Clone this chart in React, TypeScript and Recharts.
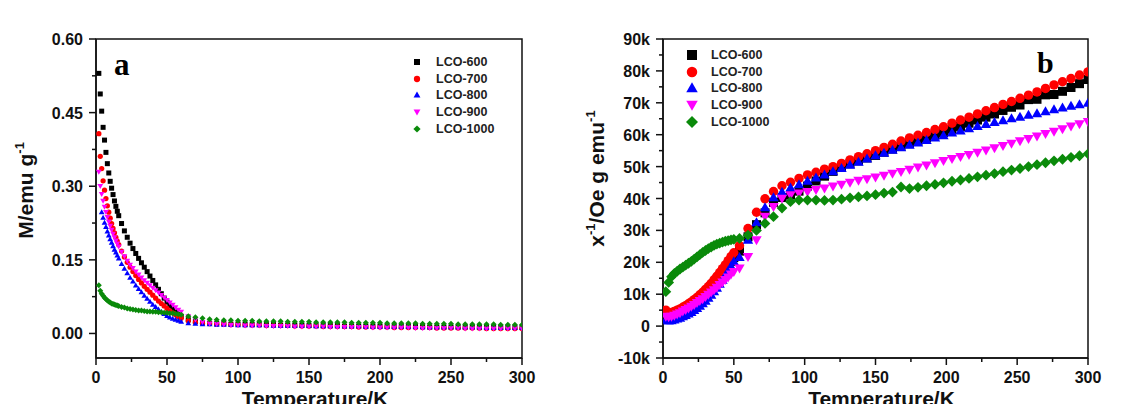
import React from "react";
import {
  ScatterChart,
  Scatter,
  XAxis,
  YAxis,
  ReferenceArea,
  Legend,
} from "recharts";

// ---- panel a: M vs T ----
const tempA = [
  2, 3, 4, 5, 6, 7, 8, 9, 10, 11, 12, 13, 14, 15, 16, 18, 20, 22, 24, 26, 28, 30, 32, 34, 36, 38, 40,
  42, 44, 46, 48, 50, 52, 54, 56, 58, 60, 65, 70, 75, 80, 85, 90, 95, 100, 105, 110, 115, 120, 125,
  130, 135, 140, 145, 150, 155, 160, 165, 170, 175, 180, 185, 190, 195, 200, 205, 210, 215, 220, 225,
  230, 235, 240, 245, 250, 255, 260, 265, 270, 275, 280, 285, 290, 295, 300,
];

const mA600 = [
  0.53, 0.488, 0.453, 0.42, 0.394, 0.369, 0.346, 0.327, 0.31, 0.296, 0.283, 0.27, 0.259, 0.249, 0.24,
  0.224, 0.209, 0.196, 0.184, 0.173, 0.163, 0.153, 0.144, 0.135, 0.126, 0.117, 0.108, 0.099, 0.09,
  0.081, 0.072, 0.064, 0.057, 0.05, 0.044, 0.039, 0.035,
  0.028, 0.024, 0.022, 0.021, 0.02, 0.02, 0.019, 0.019, 0.019, 0.018, 0.018, 0.018, 0.018, 0.017,
  0.017, 0.017, 0.017, 0.016, 0.016, 0.016, 0.016, 0.016, 0.015, 0.015, 0.015, 0.015, 0.015, 0.015,
  0.014, 0.014, 0.014, 0.014, 0.014, 0.014, 0.013, 0.013, 0.013, 0.013, 0.013, 0.013, 0.013, 0.012,
  0.012, 0.012, 0.012, 0.012, 0.012, 0.012,
];
const mA700 = [
  0.407, 0.361, 0.336, 0.311, 0.292, 0.275, 0.26, 0.247, 0.235, 0.224, 0.214, 0.205, 0.196, 0.188,
  0.181, 0.168, 0.156, 0.145, 0.135, 0.126, 0.118, 0.11, 0.103, 0.096, 0.09, 0.084, 0.078, 0.072,
  0.066, 0.061, 0.056, 0.051, 0.046, 0.042, 0.038, 0.034, 0.031,
  0.026, 0.023, 0.021, 0.02, 0.019, 0.019, 0.018, 0.018, 0.017, 0.017, 0.017, 0.016, 0.016, 0.016,
  0.016, 0.015, 0.015, 0.015, 0.015, 0.014, 0.014, 0.014, 0.014, 0.014, 0.013, 0.013, 0.013, 0.013,
  0.013, 0.012, 0.012, 0.012, 0.012, 0.012, 0.012, 0.011, 0.011, 0.011, 0.011, 0.011, 0.011, 0.011,
  0.01, 0.01, 0.01, 0.01, 0.01, 0.01,
];
const mA800 = [
  null, null, 0.247, 0.236, 0.226, 0.217, 0.208, 0.2, 0.192, 0.185, 0.178, 0.171, 0.165, 0.159, 0.153,
  0.142, 0.132, 0.123, 0.114, 0.106, 0.098, 0.091, 0.084, 0.077, 0.071, 0.065, 0.059, 0.054, 0.049,
  0.044, 0.04, 0.036, 0.033, 0.03, 0.028, 0.026, 0.024,
  0.021, 0.02, 0.019, 0.019, 0.018, 0.018, 0.018, 0.017, 0.017, 0.017, 0.017, 0.017, 0.016, 0.016,
  0.016, 0.016, 0.016, 0.016, 0.015, 0.015, 0.015, 0.015, 0.015, 0.015, 0.015, 0.014, 0.014, 0.014,
  0.014, 0.014, 0.014, 0.014, 0.014, 0.013, 0.013, 0.013, 0.013, 0.013, 0.013, 0.013, 0.013, 0.013,
  0.012, 0.012, 0.012, 0.012, 0.012, 0.012,
];
const mA900 = [
  0.329, 0.3, 0.284, 0.27, 0.258, 0.247, 0.237, 0.228, 0.219, 0.211, 0.203, 0.196, 0.189, 0.183,
  0.177, 0.166, 0.157, 0.148, 0.14, 0.133, 0.126, 0.12, 0.114, 0.108, 0.103, 0.098, 0.093, 0.088,
  0.083, 0.078, 0.073, 0.068, 0.063, 0.058, 0.053, 0.048, 0.044,
  0.035, 0.028, 0.023, 0.02, 0.019, 0.018, 0.017, 0.017, 0.016, 0.016, 0.016, 0.015, 0.015, 0.015,
  0.015, 0.014, 0.014, 0.014, 0.014, 0.014, 0.013, 0.013, 0.013, 0.013, 0.013, 0.013, 0.012, 0.012,
  0.012, 0.012, 0.012, 0.012, 0.011, 0.011, 0.011, 0.011, 0.011, 0.011, 0.011, 0.01, 0.01, 0.01,
  0.01, 0.01, 0.01, 0.01, 0.01, 0.01,
];
const mA1000 = [
  0.098, 0.087, 0.081, 0.077, 0.073, 0.07, 0.067, 0.065, 0.063, 0.061, 0.06, 0.059, 0.058, 0.057,
  0.056, 0.054, 0.053, 0.051, 0.05, 0.049, 0.048, 0.047, 0.047, 0.046, 0.045, 0.045, 0.044, 0.044,
  0.043, 0.043, 0.042, 0.042, 0.041, 0.041, 0.04, 0.039, 0.038,
  0.035, 0.033, 0.031, 0.029, 0.028, 0.027, 0.027, 0.026, 0.026, 0.026, 0.025, 0.025, 0.025, 0.025,
  0.024, 0.024, 0.024, 0.024, 0.023, 0.023, 0.023, 0.023, 0.023, 0.022, 0.022, 0.022, 0.022, 0.022,
  0.021, 0.021, 0.021, 0.021, 0.021, 0.02, 0.02, 0.02, 0.02, 0.02, 0.019, 0.019, 0.019, 0.019, 0.019,
  0.019, 0.018, 0.018, 0.018, 0.018,
];

// ---- panel b: 1/chi vs T (values in k) ----
const tempB = [
  2, 4, 6, 8, 10, 12, 14, 16, 18, 20, 22, 24, 26, 28, 30, 32, 34, 36, 38, 40, 42, 44, 46, 48, 50,
  54, 60, 66, 72, 78, 84, 90, 96, 102, 108, 114, 120, 126, 132, 138, 144, 150, 156, 162, 168, 174,
  180, 186, 192, 198, 204, 210, 216, 222, 228, 234, 240, 246, 252, 258, 264, 270, 276, 282, 288, 294,
  300,
];

const chiB600 = [
  3.5, 3.6, 3.8, 4.1, 4.4, 4.8, 5.2, 5.7, 6.2, 6.8, 7.4, 8.1, 8.8, 9.6, 10.4, 11.3, 12.3, 13.3, 14.4,
  15.5, 16.7, 17.9, 19.1, 20.3, 21.5,
  23.5, 28.0, 31.8, 35.5, 38.8, 40.3, 41.1, 42.3, 43.9, 45.5, 47.0, 48.5, 49.9, 50.9, 51.8, 52.7, 53.5,
  54.5, 55.5, 56.3, 57.2, 58.0, 59.0, 59.9, 60.7, 61.7, 62.6, 63.6, 64.6, 65.5, 66.5, 67.6, 68.6, 69.3,
  71.0, 71.1, 72.5, 72.6, 73.6, 74.8, 76.0, 77.3,
];
const chiB700 = [
  5.0, 4.2, 4.3, 4.6, 5.0, 5.4, 5.9, 6.4, 7.0, 7.6, 8.3, 9.0, 9.8, 10.6, 11.5, 12.4, 13.4, 14.5, 15.6,
  16.8, 18.0, 19.2, 20.5, 21.8, 23.0,
  25.2, 30.6, 35.7, 39.9, 42.2, 44.0, 45.1, 46.3, 47.4, 48.2, 49.2, 50.0, 51.0, 52.1, 53.1, 54.0, 55.0,
  56.0, 57.0, 58.0, 59.0, 59.8, 60.7, 61.6, 62.5, 63.6, 64.6, 65.5, 66.5, 67.5, 68.5, 69.5, 70.4, 71.4,
  72.4, 73.4, 74.5, 75.6, 76.6, 77.6, 78.7, 79.7,
];
const chiB800 = [
  1.9, 1.7, 1.8, 2.0, 2.3, 2.6, 3.0, 3.4, 3.9, 4.4, 5.0, 5.6, 6.3, 7.1, 7.9, 8.8, 9.8, 10.9, 12.0,
  13.2, 14.5, 15.9, 17.3, 18.8, 20.3,
  21.6, 27.0, 32.5, 37.2, 40.3, 42.1, 43.4, 44.4, 45.5, 46.5, 47.5, 48.5, 49.5, 50.5, 51.5, 52.5, 53.5,
  54.3, 55.2, 56.0, 56.8, 57.5, 58.3, 59.1, 59.8, 60.6, 61.3, 62.0, 62.7, 63.3, 63.9, 64.5, 65.1, 65.6,
  66.2, 66.7, 67.3, 67.9, 68.5, 69.0, 69.5, 70.0,
];
const chiB900 = [
  3.0, 2.8, 3.0, 3.3, 3.7, 4.1, 4.6, 5.1, 5.6, 6.1, 6.7, 7.3, 7.9, 8.5, 9.2, 9.9, 10.6, 11.3, 12.1,
  12.9, 13.7, 14.5, 15.3, 16.2, 17.0,
  18.1, 21.7, 27.0, 34.3, 37.4, 40.0, 41.1, 41.6, 42.1, 42.7, 43.2, 43.8, 44.4, 45.0, 45.6, 46.1, 46.6,
  47.2, 47.8, 48.4, 49.1, 49.8, 50.4, 51.1, 51.8, 52.4, 53.1, 53.7, 54.4, 55.1, 55.8, 56.5, 57.2, 58.0,
  58.7, 59.5, 60.3, 61.0, 61.8, 62.6, 63.3, 64.0,
];
const chiB1000 = [
  10.8, 13.7, 15.5, 16.5, 17.2, 17.9, 18.5, 19.1, 19.7, 20.3, 21.0, 21.7, 22.4, 23.1, 23.7, 24.3, 24.8,
  25.3, 25.7, 26.0, 26.3, 26.6, 26.8, 27.0, 27.2,
  27.5, 28.5, 30.0, 32.2, 34.3, 37.0, 39.0, 39.5, 39.5, 39.5, 39.4, 39.5, 39.8, 40.2, 40.5, 40.8, 41.2,
  41.7, 42.0, 43.6, 43.1, 43.5, 44.0, 44.4, 44.9, 45.4, 45.8, 46.3, 46.8, 47.3, 47.8, 48.4, 48.9, 49.4,
  50.0, 50.6, 51.2, 51.8, 52.3, 52.9, 53.4, 54.0,
];

// ---- series and ticks ----
const seriesNames = ["LCO-600", "LCO-700", "LCO-800", "LCO-900", "LCO-1000"];
const seriesColors = ["#000000", "#ff0000", "#0000ff", "#ff00ff", "#0a8a0a"];
const seriesShapes = ["square", "circle", "up", "down", "diamond"];

const xTicks = [0, 25, 50, 75, 100, 125, 150, 175, 200, 225, 250, 275, 300];
const xMajor = [0, 50, 100, 150, 200, 250, 300];
const yTicksA = [0, 0.075, 0.15, 0.225, 0.3, 0.375, 0.45, 0.525, 0.6];
const yMajorA = [0, 0.15, 0.3, 0.45, 0.6];
const yTicksB = [-10, -5, 0, 5, 10, 15, 20, 25, 30, 35, 40, 45, 50, 55, 60, 65, 70, 75, 80, 85, 90];
const yMajorB = [-10, 0, 10, 20, 30, 40, 50, 60, 70, 80, 90];

const sans = "'Liberation Sans', Arial, sans-serif";
const tickFont = { fontFamily: sans, fontWeight: 700, fontSize: 16, fill: "#111" };
const titleFont = { fontFamily: sans, fontWeight: 700, fontSize: 21, fill: "#111" };

function toPoints(temps: number[], vals: (number | null)[]) {
  return temps
    .map((t, i) => ({ t, v: vals[i] }))
    .filter((p) => p.v !== null && p.v !== undefined);
}

function marker(kind: string, cx: number, cy: number, s: number, fill: string) {
  const h = s / 2;
  switch (kind) {
    case "square":
      return <rect x={cx - h} y={cy - h} width={s} height={s} fill={fill} />;
    case "circle":
      return <circle cx={cx} cy={cy} r={h * 1.05} fill={fill} />;
    case "up":
      return (
        <path
          d={`M${cx},${cy - h * 1.15}L${cx + h * 1.15},${cy + h * 0.85}L${cx - h * 1.15},${cy + h * 0.85}Z`}
          fill={fill}
        />
      );
    case "down":
      return (
        <path
          d={`M${cx},${cy + h * 1.15}L${cx + h * 1.15},${cy - h * 0.85}L${cx - h * 1.15},${cy - h * 0.85}Z`}
          fill={fill}
        />
      );
    default:
      return (
        <path
          d={`M${cx},${cy - h * 1.2}L${cx + h * 1.2},${cy}L${cx},${cy + h * 1.2}L${cx - h * 1.2},${cy}Z`}
          fill={fill}
        />
      );
  }
}

function XTick(props: any) {
  const { x, y, payload } = props;
  const major = xMajor.includes(payload.value);
  return (
    <g>
      <line x1={x} x2={x} y1={y} y2={y + (major ? 7 : 4)} stroke="#111" strokeWidth={1.5} />
      {major && (
        <text x={x} y={y + 25} textAnchor="middle" style={tickFont}>
          {payload.value}
        </text>
      )}
    </g>
  );
}

const makeYTick = (majors: number[], fmt: (v: number) => string) =>
  function YTick(props: any) {
    const { x, y, payload } = props;
    const major = majors.includes(payload.value);
    return (
      <g>
        <line x1={x} x2={x - (major ? 7 : 4)} y1={y} y2={y} stroke="#111" strokeWidth={1.5} />
        {major && (
          <text x={x - 13} y={y + 6} textAnchor="end" style={tickFont}>
            {fmt(payload.value)}
          </text>
        )}
      </g>
    );
  };

const xTitle = (props: any) => {
  const vb = props.viewBox || { x: 0, y: 358, width: 426 };
  return (
    <text x={vb.x + vb.width / 2 + 6} y={vb.y + 48} textAnchor="middle" style={titleFont}>
      Temperature/K
    </text>
  );
};

const yTitleA = (props: any) => {
  const vb = props.viewBox || { x: 0, y: 39, height: 319 };
  const cx = vb.x + 25;
  const cy = vb.y + vb.height / 2 - 8;
  return (
    <text x={cx} y={cy} transform={`rotate(-90 ${cx} ${cy})`} textAnchor="middle" dy={8} style={titleFont}>
      M/emu g
      <tspan dy={-9} fontSize={13}>
        -1
      </tspan>
    </text>
  );
};

const yTitleB = (props: any) => {
  const vb = props.viewBox || { x: 0, y: 39, height: 319 };
  const cx = vb.x + 36;
  const cy = vb.y + vb.height / 2 - 20;
  return (
    <text x={cx} y={cy} transform={`rotate(-90 ${cx} ${cy})`} textAnchor="middle" dy={8} style={titleFont}>
      x
      <tspan dy={-9} fontSize={13}>
        -1
      </tspan>
      <tspan dy={9}>/Oe g emu</tspan>
      <tspan dy={-9} fontSize={13}>
        -1
      </tspan>
    </text>
  );
};

const legendContent = (size: number) => () => (
  <div>
    {seriesNames.map((name, i) => (
      <div key={name} style={{ display: "flex", alignItems: "center", height: 16.8 }}>
        <svg width={14} height={16}>
          {marker(seriesShapes[i], 7, 8, size, seriesColors[i])}
        </svg>
        <span
          style={{
            marginLeft: 12,
            fontFamily: sans,
            fontWeight: 700,
            fontSize: 12.5,
            color: "#222",
            lineHeight: "16px",
          }}
        >
          {name}
        </span>
      </div>
    ))}
  </div>
);

const dataA = [mA600, mA700, mA800, mA900, mA1000].map((vals) => toPoints(tempA, vals));
const dataB = [chiB600, chiB700, chiB800, chiB900, chiB1000].map((vals) => toPoints(tempB, vals));

export default function App() {
  return (
    <div style={{ position: "relative", width: 1124, height: 412, margin: -8, background: "#fff" }}>
      <div style={{ position: "absolute", left: 0, top: 0 }}>
        <ScatterChart width={560} height={412} margin={{ top: 39, right: 38, bottom: 0, left: 0 }}>
          <XAxis
            type="number"
            dataKey="t"
            domain={[0, 300]}
            ticks={xTicks}
            interval={0}
            tickSize={0}
            tickMargin={0}
            tickLine={false}
            tick={XTick}
            height={54}
            axisLine={{ stroke: "#111", strokeWidth: 1.5 }}
            allowDataOverflow
            label={xTitle}
          />
          <YAxis
            type="number"
            dataKey="v"
            domain={[-0.05, 0.6]}
            ticks={yTicksA}
            interval={0}
            tickSize={0}
            tickMargin={0}
            tickLine={false}
            tick={makeYTick(yMajorA, (v) => v.toFixed(2))}
            width={96}
            axisLine={{ stroke: "#111", strokeWidth: 1.5 }}
            allowDataOverflow
            label={yTitleA}
          />
          <ReferenceArea x1={0} x2={300} y1={-0.05} y2={0.6} fill="none" stroke="#111" strokeWidth={1.5} />
          {dataA.map((d, i) => (
            <Scatter
              key={seriesNames[i]}
              name={seriesNames[i]}
              data={d}
              fill={seriesColors[i]}
              isAnimationActive={false}
              shape={(p: any) => marker(seriesShapes[i], p.cx, p.cy, 5, seriesColors[i])}
            />
          ))}
          <Legend
            layout="vertical"
            align="center"
            verticalAlign="middle"
            wrapperStyle={{ left: 410, top: 53.5, width: 120 }}
            content={legendContent(6)}
          />
        </ScatterChart>
      </div>

      <div style={{ position: "absolute", left: 560, top: 0 }}>
        <ScatterChart width={564} height={412} margin={{ top: 39, right: 36, bottom: 0, left: 0 }}>
          <XAxis
            type="number"
            dataKey="t"
            domain={[0, 300]}
            ticks={xTicks}
            interval={0}
            tickSize={0}
            tickMargin={0}
            tickLine={false}
            tick={XTick}
            height={54}
            axisLine={{ stroke: "#111", strokeWidth: 1.5 }}
            allowDataOverflow
            label={xTitle}
          />
          <YAxis
            type="number"
            dataKey="v"
            domain={[-10, 90]}
            ticks={yTicksB}
            interval={0}
            tickSize={0}
            tickMargin={0}
            tickLine={false}
            tick={makeYTick(yMajorB, (v) => (v === 0 ? "0" : `${v}k`))}
            width={103}
            axisLine={{ stroke: "#111", strokeWidth: 1.5 }}
            allowDataOverflow
            label={yTitleB}
          />
          <ReferenceArea x1={0} x2={300} y1={-10} y2={90} fill="none" stroke="#111" strokeWidth={1.5} />
          {dataB.map((d, i) => (
            <Scatter
              key={seriesNames[i]}
              name={seriesNames[i]}
              data={d}
              fill={seriesColors[i]}
              isAnimationActive={false}
              shape={(p: any) => marker(seriesShapes[i], p.cx, p.cy, 9, seriesColors[i])}
            />
          ))}
          <Legend
            layout="vertical"
            align="center"
            verticalAlign="middle"
            wrapperStyle={{ left: 125, top: 46.5, width: 130 }}
            content={legendContent(10)}
          />
        </ScatterChart>
      </div>

      <svg
        width={1124}
        height={412}
        style={{ position: "absolute", left: 0, top: 0, pointerEvents: "none" }}
      >
        <text x={114} y={75} style={{ fontFamily: "'Liberation Serif', serif", fontWeight: 700, fontSize: 31 }}>
          a
        </text>
        <text x={1037} y={73} style={{ fontFamily: "'Liberation Serif', serif", fontWeight: 700, fontSize: 30 }}>
          b
        </text>
      </svg>
    </div>
  );
}
